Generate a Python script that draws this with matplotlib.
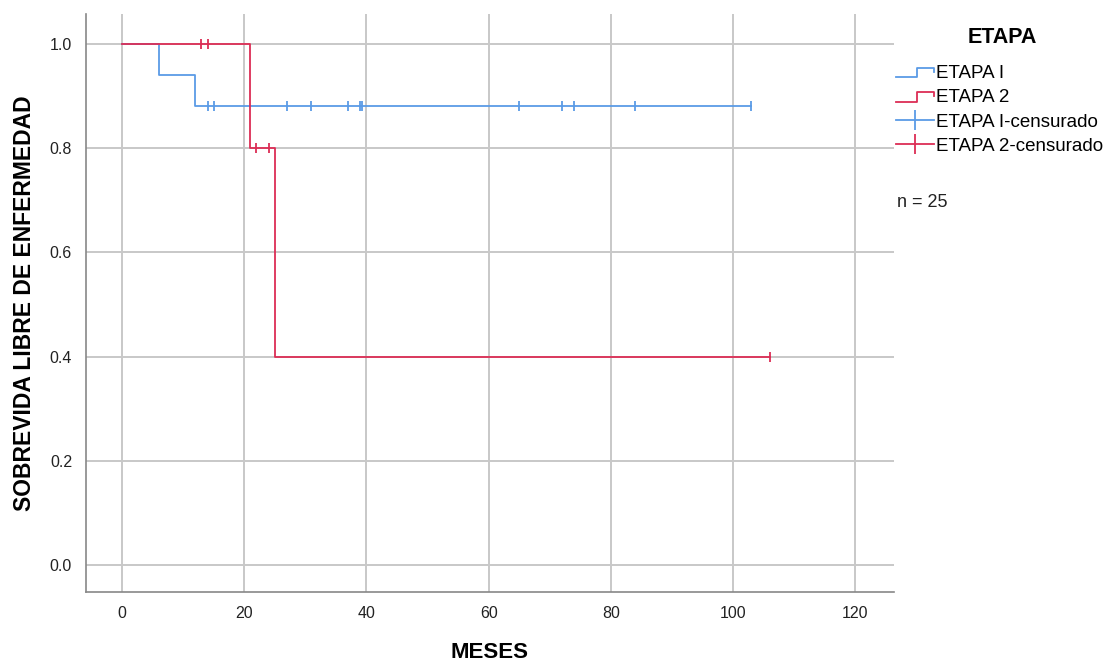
import numpy as np
import matplotlib.pyplot as plt
from matplotlib.lines import Line2D
from matplotlib.legend_handler import HandlerBase

plt.rcParams['font.family'] = ['Liberation Sans', 'DejaVu Sans']

# curvas Kaplan-Meier (tiempos de evento y supervivencia)
t_etapa1 = [0, 6, 12, 103]
s_etapa1 = [1.0, 0.941, 0.882, 0.882]
t_etapa2 = [0, 21, 25, 106]
s_etapa2 = [1.0, 0.8, 0.4, 0.4]

# tiempos censurados
cens_etapa1 = [14, 15, 27, 31, 37, 39, 39.2, 65, 72, 74, 84, 103]
cens_etapa2 = [13, 14, 22, 24, 106]

azul = '#5a9be6'
rojo = '#dc2d55'


def valor_escalon(t_ev, s_ev, t):
    idx = np.searchsorted(t_ev, t, side='right') - 1
    return np.array(s_ev)[idx]


class HandlerEscalon(HandlerBase):
    def create_artists(self, legend, orig_handle, xdescent, ydescent,
                       width, height, fontsize, trans):
        x0 = -xdescent
        y0 = -ydescent
        xs = [x0, x0 + width * 0.55, x0 + width * 0.55, x0 + width, x0 + width]
        ys = [y0 + height * 0.05, y0 + height * 0.05, y0 + height * 0.8,
              y0 + height * 0.8, y0 + height * 0.45]
        ln = Line2D(xs, ys, color=orig_handle.get_color(), lw=1.3,
                    transform=trans)
        return [ln]


fig = plt.figure(figsize=(11.09, 6.62), dpi=100)
ax = fig.add_axes([0.0775, 0.1057, 0.7285, 0.8732])

ax.plot(t_etapa1, s_etapa1, drawstyle='steps-post', color=azul, lw=1.3)
ax.plot(t_etapa2, s_etapa2, drawstyle='steps-post', color=rojo, lw=1.3)
ax.plot(cens_etapa1, valor_escalon(t_etapa1, s_etapa1, cens_etapa1),
        ls='none', marker='|', ms=7.5, mew=1.3, color=azul)
ax.plot(cens_etapa2, valor_escalon(t_etapa2, s_etapa2, cens_etapa2),
        ls='none', marker='|', ms=7.5, mew=1.3, color=rojo)

ax.set_xlim(-5.9, 126.3)
ax.set_ylim(-0.052, 1.058)
ax.set_xticks([0, 20, 40, 60, 80, 100, 120])
ax.set_yticks([0.0, 0.2, 0.4, 0.6, 0.8, 1.0])
ax.set_yticklabels(['0.0', '0.2', '0.4', '0.6', '0.8', '1.0'])
ax.grid(True, color='#c8c8c8', lw=1.4)
ax.set_axisbelow(True)
ax.tick_params(length=0, labelsize=11.5, colors='#222222', pad=10)
for lado in ['top', 'right']:
    ax.spines[lado].set_visible(False)
for lado in ['left', 'bottom']:
    ax.spines[lado].set_color('#888888')
    ax.spines[lado].set_linewidth(1.2)

fig.text(0.441, 0.014, 'MESES', fontsize=16, fontweight='bold',
         ha='center', va='center')
ax.set_ylabel('SOBREVIDA LIBRE DE ENFERMEDAD', fontsize=16.5,
              fontweight='bold', labelpad=10)

h1 = Line2D([], [], color=azul)
h2 = Line2D([], [], color=rojo)
h3 = Line2D([], [], color=azul, marker='|', ms=14, mew=1.3, lw=1.3)
h4 = Line2D([], [], color=rojo, marker='|', ms=14, mew=1.3, lw=1.3)
leg = fig.legend([h1, h2, h3, h4],
                 ['ETAPA I', 'ETAPA 2', 'ETAPA I-censurado', 'ETAPA 2-censurado'],
                 handler_map={h1: HandlerEscalon(), h2: HandlerEscalon()},
                 loc='upper left', bbox_to_anchor=(0.808, 0.902),
                 frameon=False, fontsize=13.5,
                 handlelength=2.0, handletextpad=0.15, labelspacing=0.38,
                 borderaxespad=0, borderpad=0)
fig.text(0.904, 0.944, 'ETAPA', fontsize=15.5, fontweight='bold',
         ha='center', va='center')
fig.text(0.809, 0.694, 'n = 25', fontsize=13, color='#222222',
         va='center')

plt.savefig('out.png', dpi=100)
